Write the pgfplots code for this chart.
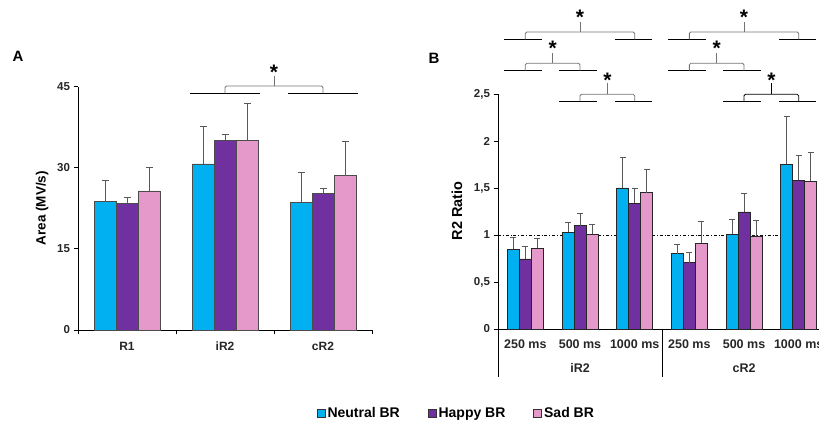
\documentclass[border=0pt]{standalone}
\usepackage{pgfplots}
\pgfplotsset{compat=1.18}
\usepackage{fontspec}
\setmainfont{Liberation Sans}

\definecolor{neutralbr}{HTML}{00B0F0}
\definecolor{happybr}{HTML}{7030A0}
\definecolor{sadbr}{HTML}{E598CA}

\pgfplotsset{
  panel/.style={
    scale only axis, clip=false,
    axis lines*=left,
    axis line style={black, line width=0.8pt},
    tick align=outside, major tick length=4.5pt,
    tick style={black, line width=0.8pt},
    tick label style={font=\bfseries\fontsize{11.5}{13}\selectfont, text=black!85},
  },
  errbar/.style={
    error bars/.cd, y dir=plus, y explicit,
    error bar style={line width=0.9pt, black!65},
    error mark options={rotate=90, mark size=#1, line width=0.9pt, black!65},
  },
}
\tikzset{
  bracket/.style={black!55, line width=0.8pt, rounded corners=1.5pt},
  sigline/.style={black, line width=0.7pt},
  star/.style={font=\bfseries\fontsize{21}{22}\selectfont, yshift=-4.6pt, inner sep=0pt},
}
% significance bracket: x-left, x-right, y-line, y-top, y-tip, x-mid, y-star
\newcommand{\sig}[8][]{%
  \draw[bracket,#1] (axis cs:#2,#4) -- (axis cs:#2,#5) -- (axis cs:#3,#5) -- (axis cs:#3,#4);
  \draw[bracket,#1] (axis cs:#7,#5) -- (axis cs:#7,#6);
  \node[star] at (axis cs:#7,#8) {*};
}

\begin{document}
\begin{tikzpicture}

% ---------------- Panel A ----------------
\begin{axis}[
  panel,
  at={(78pt,98pt)}, anchor=south west,
  x=98pt, y=5.41pt,
  xmin=-0.5, xmax=2.5, ymin=0, ymax=45,
  ybar=0pt, bar width=22pt,
  xtick={-0.5,0.5,1.5,2.5}, x tick label as interval,
  xticklabels={R1,iR2,cR2},
  xticklabel style={font=\bfseries\fontsize{12}{14}\selectfont, yshift=-4pt},
  ytick={0,15,30,45}, yticklabels={0,15,30,45},
  ylabel={Area (MV/s)},
  every axis y label/.style={at={(axis description cs:-0.122,0.5)}, rotate=90, anchor=center,
    font=\bfseries\fontsize{13.5}{16}\selectfont},
  legend columns=3,
  legend style={at={(axis description cs:1.287,-0.341)}, anchor=center, draw=none,
    font=\bfseries\fontsize{14}{16}\selectfont,
    /tikz/every even column/.append style={column sep=26pt}},
  legend image code/.code={\draw[#1, draw=black!80, line width=0.7pt] (0pt,-4pt) rectangle (8pt,4pt);},
]
\addplot[fill=neutralbr, draw=black!70, line width=0.7pt, errbar=3.5pt]
  coordinates {(0,23.7) +- (0,3.9) (1,30.7) +- (0,6.9) (2,23.6) +- (0,5.6)};
\addplot[fill=happybr, draw=black!70, line width=0.7pt, errbar=3.5pt]
  coordinates {(0,23.4) +- (0,1.1) (1,35.1) +- (0,1.0) (2,25.3) +- (0,0.8)};
\addplot[fill=sadbr, draw=black!70, line width=0.7pt, errbar=3.5pt]
  coordinates {(0,25.7) +- (0,4.3) (1,35.1) +- (0,6.7) (2,28.5) +- (0,6.4)};
\legend{Neutral BR, Happy BR, Sad BR}

\draw[sigline] (axis cs:0.643,43.75) -- (axis cs:1.357,43.75);
\draw[sigline] (axis cs:1.643,43.75) -- (axis cs:2.357,43.75);
\sig{1}{2}{43.75}{45.1}{46.95}{1.5}{48.4}
\end{axis}

% ---------------- Panel B ----------------
\begin{axis}[
  panel,
  at={(498pt,99pt)}, anchor=south west,
  x=54.67pt, y=94pt,
  xmin=-0.5, xmax=5.5, ymin=0, ymax=2.5,
  ybar=0pt, bar width=12pt,
  xtick={0,...,5},
  xticklabels={250 ms,500 ms,1000 ms,250 ms,500 ms,1000 ms},
  xtick style={draw=none},
  xticklabel style={font=\bfseries\fontsize{12.5}{14}\selectfont, yshift=-3pt},
  ytick={0,0.5,1,1.5,2,2.5}, yticklabels={0,{0,5},1,{1,5},2,{2,5}},
  ylabel={R2 Ratio},
  every axis y label/.style={at={(axis description cs:-0.125,0.503)}, rotate=90, anchor=center,
    font=\bfseries\fontsize{14.5}{17}\selectfont},
]
% baseline ratio of 1
\addplot[sharp plot, black, line width=0.7pt, dash dot, no marks, forget plot] coordinates {(-0.5,1) (5.5,1)};

\addplot[fill=neutralbr, draw=black!85, line width=0.7pt, errbar=3pt]
  coordinates {(0,0.85) +- (0,0.12) (1,1.03) +- (0,0.10) (2,1.50) +- (0,0.33)
               (3,0.80) +- (0,0.10) (4,1.01) +- (0,0.16) (5,1.75) +- (0,0.515)};
\addplot[fill=happybr, draw=black!85, line width=0.7pt, errbar=3pt]
  coordinates {(0,0.745) +- (0,0.135) (1,1.10) +- (0,0.13) (2,1.34) +- (0,0.16)
               (3,0.705) +- (0,0.11) (4,1.245) +- (0,0.195) (5,1.58) +- (0,0.27)};
\addplot[fill=sadbr, draw=black!85, line width=0.7pt, errbar=3pt]
  coordinates {(0,0.86) +- (0,0.10) (1,1.01) +- (0,0.10) (2,1.45) +- (0,0.25)
               (3,0.91) +- (0,0.23) (4,0.99) +- (0,0.17) (5,1.57) +- (0,0.31)};

% group separators and group names
\draw[black, line width=0.8pt] (axis cs:-0.5,0) -- ++(0pt,-48pt);
\draw[black, line width=0.8pt] (axis cs:2.5,0) -- ++(0pt,-48pt);
\draw[black, line width=0.8pt] (axis cs:5.5,0) -- ++(0pt,-48pt);
\node[font=\bfseries\fontsize{12.5}{14}\selectfont, text=black!85] at ([yshift=-39pt]axis cs:1,0) {iR2};
\node[font=\bfseries\fontsize{12.5}{14}\selectfont, text=black!85] at ([yshift=-39pt]axis cs:4,0) {cR2};

% iR2 comparisons
\draw[sigline] (axis cs:-0.39,3.082) -- (axis cs:0.299,3.082);
\draw[sigline] (axis cs:1.64,3.082) -- (axis cs:2.322,3.082);
\sig{0}{2}{3.082}{3.16}{3.27}{1}{3.36}
\draw[sigline] (axis cs:-0.39,2.748) -- (axis cs:0.299,2.748);
\draw[sigline] (axis cs:0.621,2.748) -- (axis cs:1.316,2.748);
\sig{0}{1}{2.748}{2.827}{2.933}{0.5}{3.03}
\draw[sigline] (axis cs:0.621,2.426) -- (axis cs:1.316,2.426);
\draw[sigline] (axis cs:1.64,2.426) -- (axis cs:2.322,2.426);
\sig{1}{2}{2.426}{2.497}{2.614}{1.5}{2.70}

% cR2 comparisons
\draw[sigline] (axis cs:2.61,3.082) -- (axis cs:3.299,3.082);
\draw[sigline] (axis cs:4.64,3.082) -- (axis cs:5.322,3.082);
\sig{3}{5}{3.082}{3.16}{3.27}{4}{3.36}
\draw[sigline] (axis cs:2.61,2.748) -- (axis cs:3.299,2.748);
\draw[sigline] (axis cs:3.621,2.748) -- (axis cs:4.316,2.748);
\sig{3}{4}{2.748}{2.827}{2.933}{3.5}{3.03}
\draw[sigline] (axis cs:3.621,2.426) -- (axis cs:4.316,2.426);
\draw[sigline] (axis cs:4.64,2.426) -- (axis cs:5.322,2.426);
\sig[black]{4}{5}{2.426}{2.497}{2.614}{4.5}{2.70}
\end{axis}

\node[font=\bfseries\fontsize{15}{18}\selectfont] at (18pt,372pt) {A};
\node[font=\bfseries\fontsize{15}{18}\selectfont] at (434pt,370pt) {B};

\pgfresetboundingbox
\path[use as bounding box] (0,0) rectangle (819pt,428pt);
\end{tikzpicture}
\end{document}
